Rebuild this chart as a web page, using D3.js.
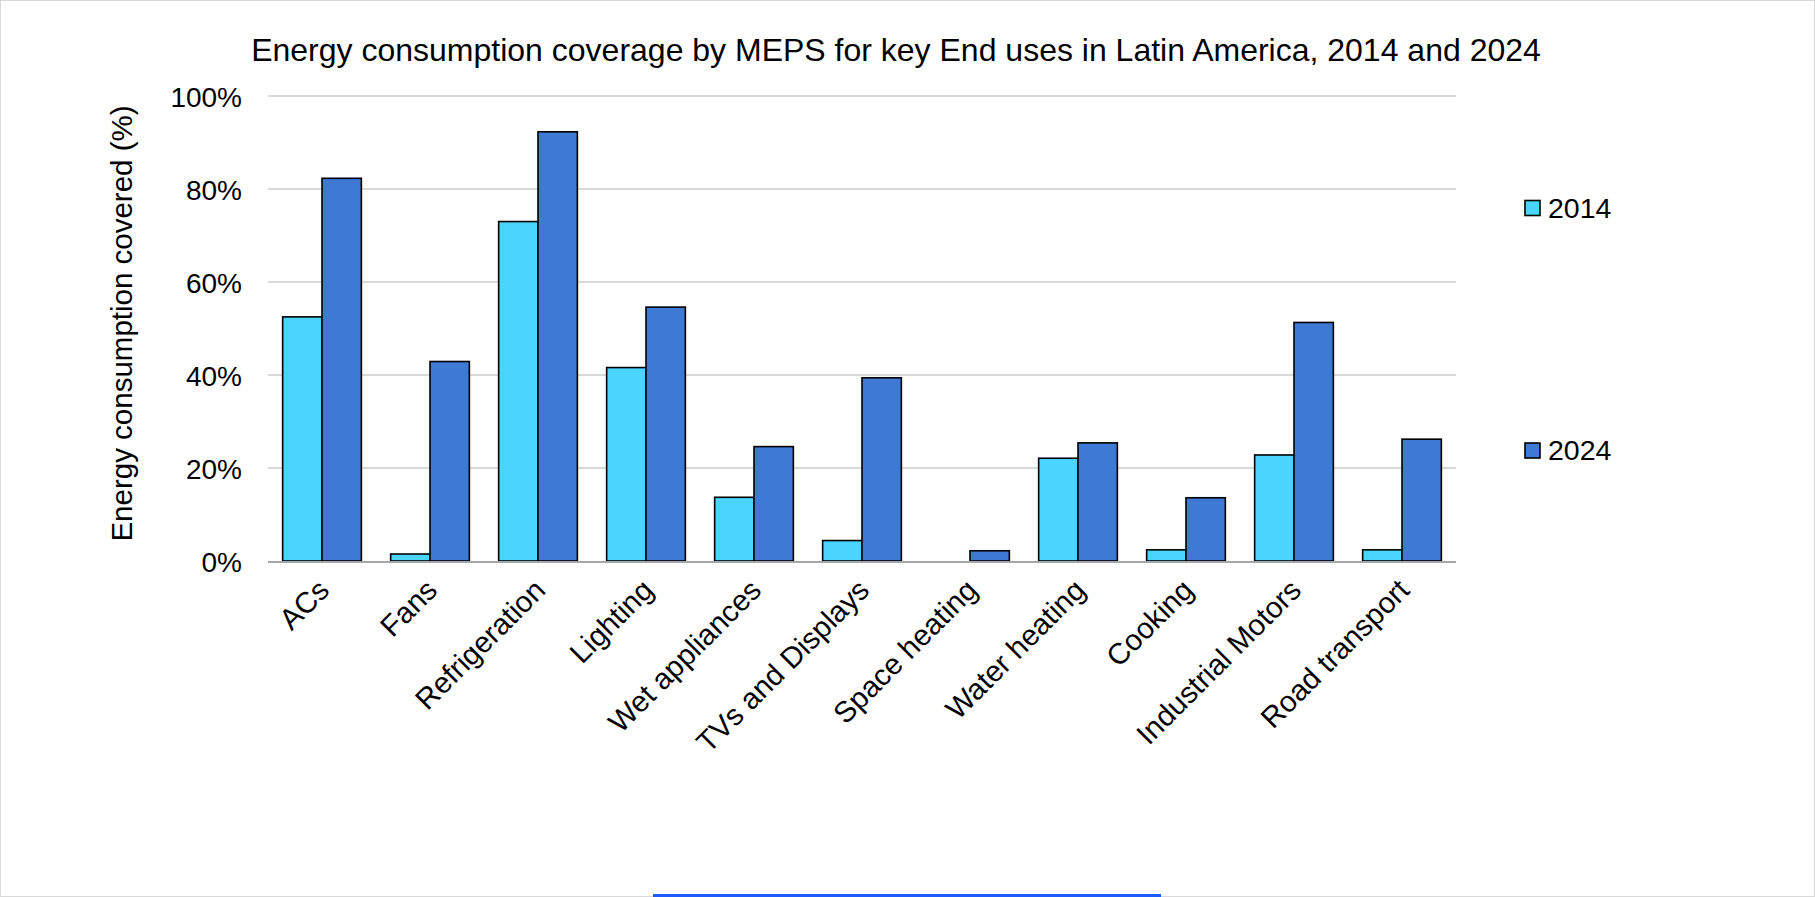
<!DOCTYPE html>
<html>
<head>
<meta charset="utf-8">
<script src="https://cdn.jsdelivr.net/npm/d3@7"></script>
<style>
  html, body { margin: 0; padding: 0; background: #fff; }
  svg { display: block; font-family: "Liberation Sans", Arial, sans-serif; }
</style>
</head>
<body>
<svg id="chart" width="1815" height="897"></svg>
<script>
// End-use categories and MEPS coverage shares (%) for each year
const categories = ["ACs", "Fans", "Refrigeration", "Lighting", "Wet appliances",
  "TVs and Displays", "Space heating", "Water heating", "Cooking",
  "Industrial Motors", "Road transport"];
const years = ["2014", "2024"];
const values2014 = [52.5, 1.5, 73.0, 41.6, 13.7, 4.4, 0, 22.1, 2.4, 22.8, 2.4];
const values2024 = [82.3, 42.9, 92.3, 54.6, 24.6, 39.4, 2.2, 25.4, 13.6, 51.3, 26.2];
const yTicks = [0, 20, 40, 60, 80, 100];
const colors = ["#4BD4FE", "#3E79D3"];

const titleText = "Energy consumption coverage by MEPS for key End uses in Latin America, 2014 and 2024";
const yTitleText = "Energy consumption covered (%)";

const W = 1815, H = 897;
const plot = { left: 268, right: 1456, top: 96, bottom: 561 };

const svg = d3.select("#chart");

// outer frame
svg.append("rect")
  .attr("x", 0.5).attr("y", 0.5)
  .attr("width", W - 1).attr("height", H - 1)
  .attr("fill", "#fff").attr("stroke", "#d9d9d9").attr("stroke-width", 1);

const x0 = d3.scaleBand().domain(categories)
  .range([plot.left, plot.right]).paddingInner(0.2713).paddingOuter(0.1357);
const x1 = d3.scaleBand().domain(years).range([0, x0.bandwidth()]);
const y = d3.scaleLinear().domain([0, 100]).range([plot.bottom, plot.top]);

// gridlines
svg.append("g")
  .selectAll("line").data(yTicks.filter(t => t > 0)).join("line")
  .attr("x1", plot.left).attr("x2", plot.right)
  .attr("y1", d => y(d)).attr("y2", d => y(d))
  .attr("stroke", "#d9d9d9").attr("stroke-width", 2);

// y axis labels
const yAxis = d3.axisLeft(y).tickValues(yTicks).tickFormat(d => d + "%").tickSize(0).tickPadding(0);
const gy = svg.append("g").attr("transform", `translate(${242},0)`).call(yAxis);
gy.select(".domain").remove();
gy.selectAll("text")
  .attr("font-size", 28).attr("fill", "#000")
  .attr("font-family", "Liberation Sans, Arial, sans-serif")
  .attr("dy", "0.36em");

// bars
const series = [values2014, values2024];
const groups = svg.append("g").selectAll("g").data(categories).join("g")
  .attr("transform", d => `translate(${x0(d)},0)`);
groups.selectAll("rect")
  .data((d, i) => years.map((yr, k) => ({ yr, v: series[k][i], k })))
  .join("rect")
  .filter(d => d.v > 0)
  .attr("x", d => x1(d.yr))
  .attr("y", d => y(d.v))
  .attr("width", x1.bandwidth())
  .attr("height", d => y(0) - y(d.v))
  .attr("fill", d => colors[d.k])
  .attr("stroke", "#000").attr("stroke-width", 1.6);

// x axis line
svg.append("line")
  .attr("x1", plot.left).attr("x2", plot.right)
  .attr("y1", plot.bottom + 1).attr("y2", plot.bottom + 1)
  .attr("stroke", "#a6a6a6").attr("stroke-width", 2);

// category labels, rotated
const xAxis = d3.axisBottom(x0).tickSize(0).tickPadding(0);
const gx = svg.append("g").attr("transform", `translate(0,${plot.bottom})`).call(xAxis);
gx.select(".domain").remove();
gx.selectAll("text")
  .attr("font-size", 29.5).attr("fill", "#000")
  .attr("font-family", "Liberation Sans, Arial, sans-serif")
  .attr("text-anchor", "end")
  .attr("y", 0).attr("dy", 0)
  .attr("transform", "translate(9,31) rotate(-45)");

// title
svg.append("text")
  .attr("x", 896).attr("y", 61)
  .attr("text-anchor", "middle")
  .attr("font-size", 32)
  .text(titleText);

// y axis title
svg.append("text")
  .attr("transform", `translate(132,${323.5}) rotate(-90)`)
  .attr("text-anchor", "middle")
  .attr("font-size", 29.5)
  .text(yTitleText);

// legend
const legendY = [200.5, 443];
const legend = svg.append("g").selectAll("g").data(years).join("g")
  .attr("transform", (d, i) => `translate(1525,${legendY[i]})`);
legend.append("rect")
  .attr("width", 15).attr("height", 15)
  .attr("fill", (d, i) => colors[i])
  .attr("stroke", "#000").attr("stroke-width", 1.6);
legend.append("text")
  .attr("x", 23).attr("y", 17)
  .attr("font-size", 28.5)
  .text(d => d);

// scroll indicator line along the bottom
svg.append("line")
  .attr("x1", 653).attr("x2", 1161)
  .attr("y1", 895.5).attr("y2", 895.5)
  .attr("stroke", "#1a5cff").attr("stroke-width", 3);
</script>
</body>
</html>
